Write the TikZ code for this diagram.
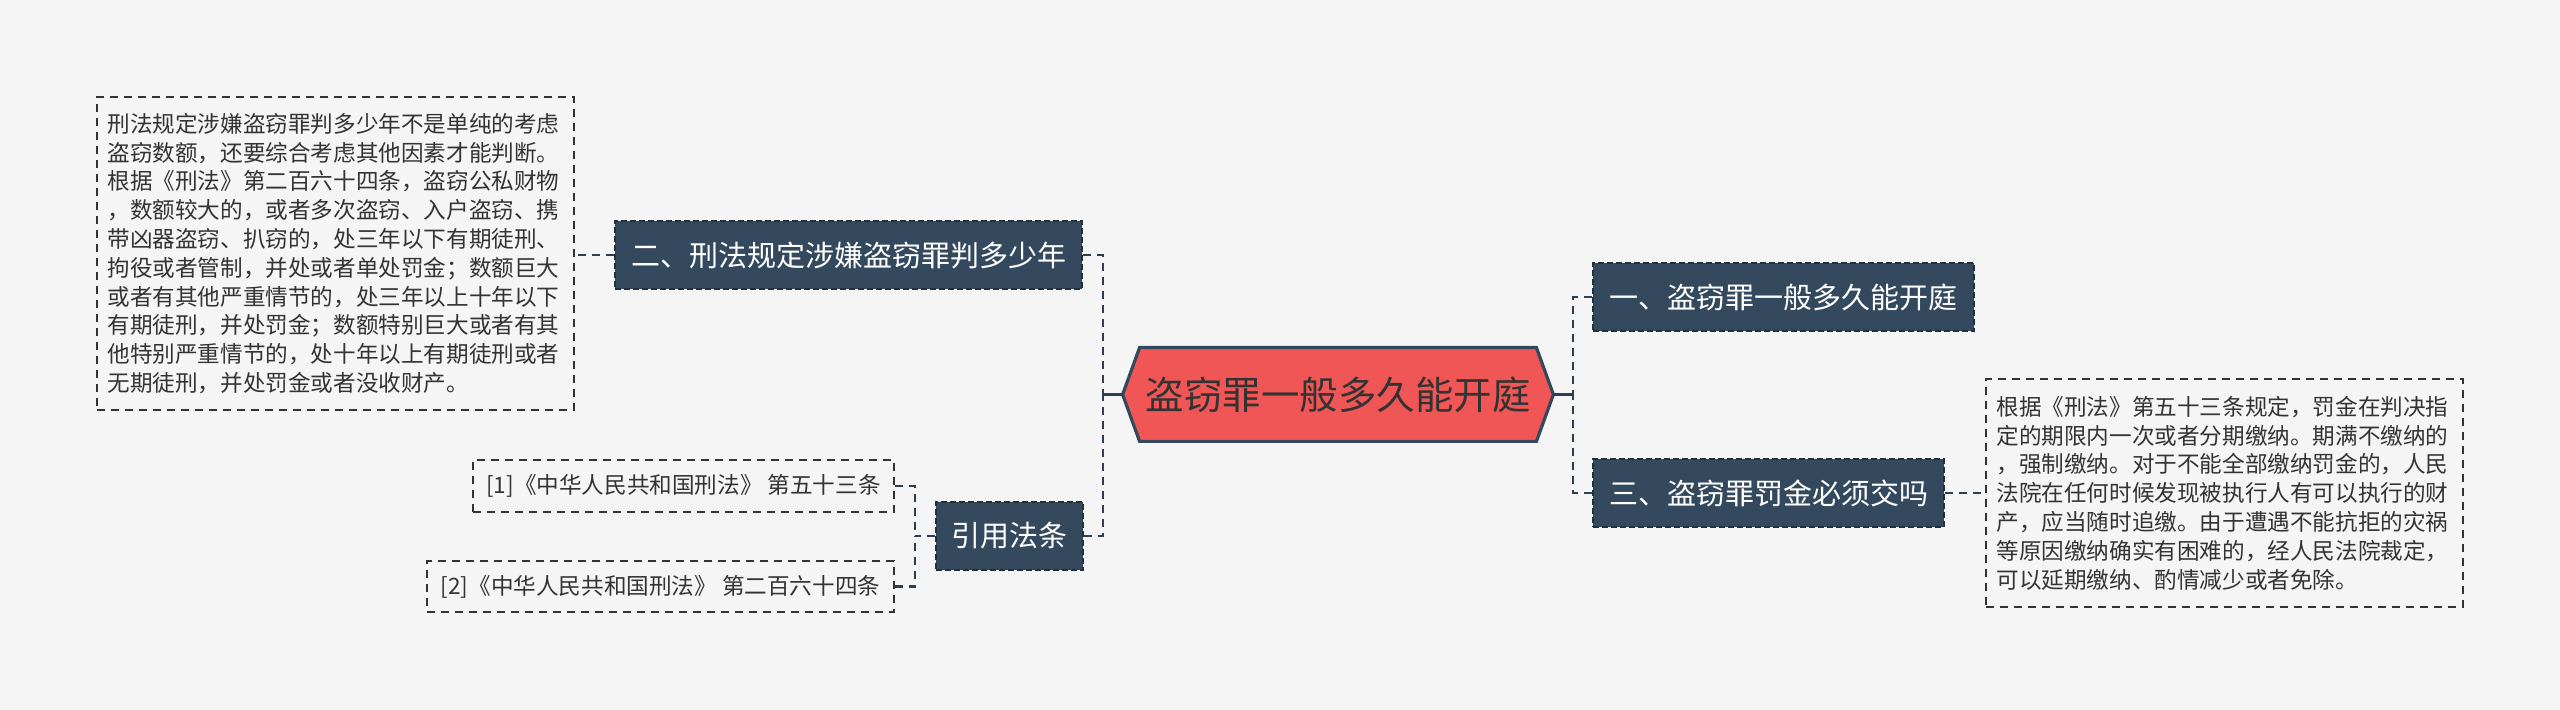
\documentclass[tikz,border=0pt]{standalone}
\usepackage{fontspec}
\setmainfont{Noto Sans CJK SC}
\usetikzlibrary{backgrounds}
\definecolor{bg}{HTML}{F5F5F5}
\definecolor{navy}{HTML}{34495E}
\definecolor{navyedge}{HTML}{22303D}
\definecolor{redfill}{HTML}{F05656}
\definecolor{txt}{HTML}{333333}
\definecolor{linec}{HTML}{2C3E50}
\tikzset{
  darkbox/.style={fill=navy, draw=navyedge, line width=1pt, dash pattern=on 3pt off 1.5pt,
    text=white, font=\fontsize{14.5pt}{17pt}\selectfont, minimum height=34pt,
    inner xsep=0pt, inner ysep=0pt},
  textbox/.style={draw=txt, line width=0.9pt, dash pattern=on 4pt off 3pt, text=txt,
    font=\fontsize{11.3pt}{14.4pt}\selectfont, inner xsep=0pt, inner ysep=0pt},
  conn/.style={draw=linec, line width=1.4pt, dash pattern=on 4pt off 3pt},
  solidconn/.style={draw=linec, line width=1.4pt},
}
\begin{document}
\begin{tikzpicture}[x=0.5pt, y=-0.5pt]
\useasboundingbox (0,0) rectangle (2560,710);

% central node
\node[font=\fontsize{19.25pt}{22pt}\selectfont, text=txt, minimum width=215pt,
      minimum height=46.5pt, inner sep=0pt] (c) at (1338,394.5) {盗窃罪一般多久能开庭};
\begin{scope}[on background layer]
  \fill[bg] (0,0) rectangle (2560,710);
  \filldraw[fill=redfill, draw=navy, line width=1.6pt]
    (c.west) -- ([xshift=8.5pt]c.north west) -- ([xshift=-8.5pt]c.north east)
    -- (c.east) -- ([xshift=-8.5pt]c.south east) -- ([xshift=8.5pt]c.south west) -- cycle;
\end{scope}

% branch nodes
\node[darkbox, minimum width=190.5pt] (n1) at (1783.5,297) {一、盗窃罪一般多久能开庭};
\node[darkbox, minimum width=175.5pt] (n3) at (1768.5,493) {三、盗窃罪罚金必须交吗};
\node[darkbox, minimum width=233.5pt] (n2) at (848.5,255) {二、刑法规定涉嫌盗窃罪判多少年};
\node[darkbox, minimum width=73.5pt] (cite) at (1009.5,536) {引用法条};

% text boxes
\node[textbox, align=left, text width=228pt, inner xsep=5.25pt, minimum height=156.5pt] (t2) at (335.5,253.5) {%
刑法规定涉嫌盗窃罪判多少年不是单纯的考虑\\
盗窃数额，还要综合考虑其他因素才能判断。\\
根据《刑法》第二百六十四条，盗窃公私财物\\
，数额较大的，或者多次盗窃、入户盗窃、携\\
带凶器盗窃、扒窃的，处三年以下有期徒刑、\\
拘役或者管制，并处或者单处罚金；数额巨大\\
或者有其他严重情节的，处三年以上十年以下\\
有期徒刑，并处罚金；数额特别巨大或者有其\\
他特别严重情节的，处十年以上有期徒刑或者\\
无期徒刑，并处罚金或者没收财产。};

\node[textbox, align=left, text width=228pt, inner xsep=5.25pt, minimum height=114pt] (t3) at (2224.5,493) {%
根据《刑法》第五十三条规定，罚金在判决指\\
定的期限内一次或者分期缴纳。期满不缴纳的\\
，强制缴纳。对于不能全部缴纳罚金的，人民\\
法院在任何时候发现被执行人有可以执行的财\\
产，应当随时追缴。由于遭遇不能抗拒的灾祸\\
等原因缴纳确实有困难的，经人民法院裁定，\\
可以延期缴纳、酌情减少或者免除。};

\node[textbox, minimum width=210.5pt, minimum height=26pt] (r1) at (683.5,486) {[1]《中华人民共和国刑法》 第五十三条};
\node[textbox, minimum width=233.5pt, minimum height=25.5pt] (r2) at (660.5,586.5) {[2]《中华人民共和国刑法》 第二百六十四条};

% connectors
\coordinate (lj) at (1103,394.5);
\coordinate (rj) at (1573,394.5);
\coordinate (cj) at (915,536);
\draw[solidconn] (c.west) -- (lj);
\draw[conn] (n2.east) -| (lj);
\draw[conn] (cite.east) -| (lj);
\draw[solidconn] (c.east) -- (rj);
\draw[conn] (n1.west) -| (rj);
\draw[conn] (n3.west) -| (rj);
\draw[conn] (n2.west) -- (t2.east |- n2.west);
\draw[conn] (n3.east) -- (t3.west |- n3.east);
\draw[conn] (cite.west) -- (cj);
\draw[conn] (r1.east) -| (cj);
\draw[conn] (r2.east) -| (cj);
\end{tikzpicture}
\end{document}
